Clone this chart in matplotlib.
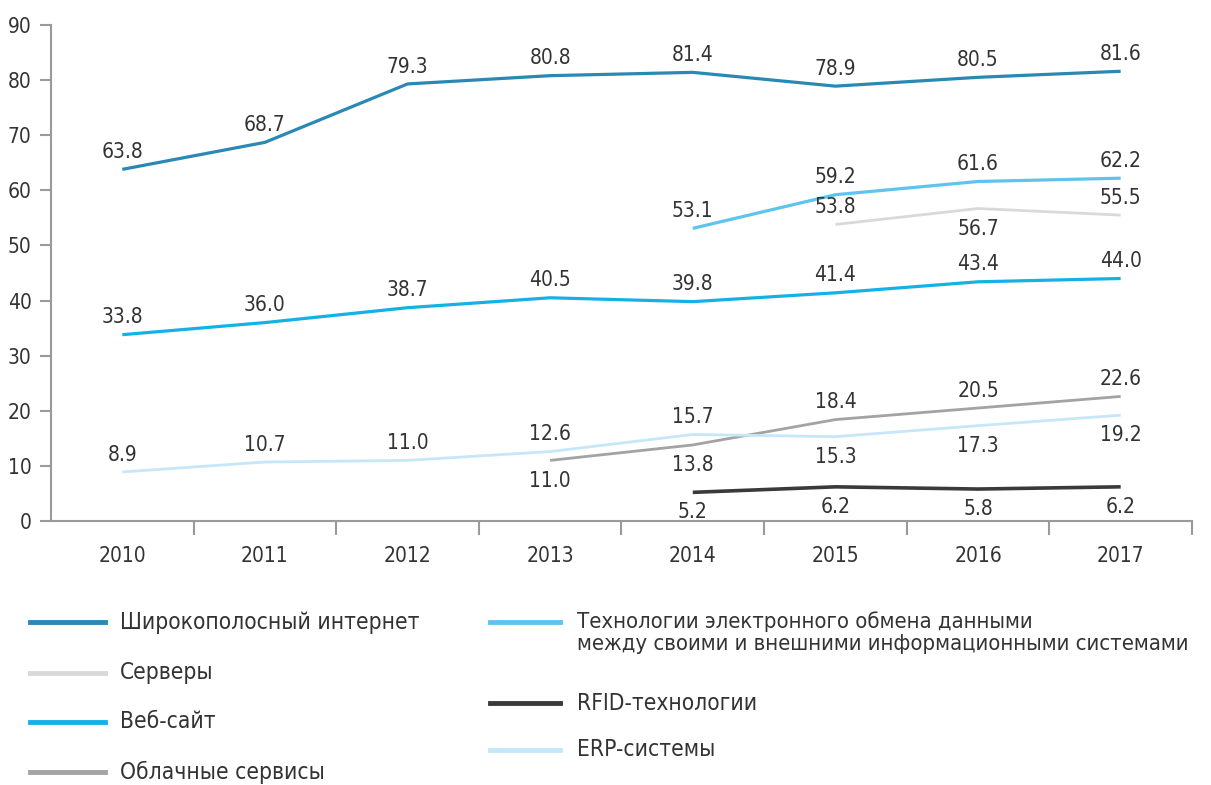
import matplotlib
matplotlib.use("Agg")
import matplotlib.pyplot as plt
from matplotlib.lines import Line2D

plt.rcParams['font.family'] = ['DejaVu Sans']
plt.rcParams['font.stretch'] = 'condensed'

# ----
# Data
# ----
years = ["2010", "2011", "2012", "2013", "2014", "2015", "2016", "2017"]

broadband = [63.8, 68.7, 79.3, 80.8, 81.4, 78.9, 80.5, 81.6]
edi = [None, None, None, None, 53.1, 59.2, 61.6, 62.2]
servers = [None, None, None, None, None, 53.8, 56.7, 55.5]
website = [33.8, 36.0, 38.7, 40.5, 39.8, 41.4, 43.4, 44.0]
cloud = [None, None, None, 11.0, 13.8, 18.4, 20.5, 22.6]
erp = [8.9, 10.7, 11.0, 12.6, 15.7, 15.3, 17.3, 19.2]
rfid = [None, None, None, None, 5.2, 6.2, 5.8, 6.2]

# label placement per point: 1 = above the line, -1 = below
edi_pos = [1, 1, 1, 1]
servers_pos = [1, -1, 1]
cloud_pos = [-1, -1, 1, 1, 1]
erp_pos = [1, 1, 1, 1, 1, -1, -1, -1]
rfid_pos = [-1, -1, -1, -1]

TEXT = "#333333"

series = [
    # name, values, colour, width, label side
    ("Широкополосный интернет", broadband, "#2a88b4", 2.3, None),
    ("Технологии электронного обмена данными\nмежду своими и внешними информационными системами",
     edi, "#5ec4ee", 2.3, edi_pos),
    ("Серверы", servers, "#d9d9d9", 2.0, servers_pos),
    ("Веб-сайт", website, "#14b1e7", 2.3, None),
    ("Облачные сервисы", cloud, "#a3a3a3", 2.0, cloud_pos),
    ("ERP-системы", erp, "#c6e7f8", 2.0, erp_pos),
    ("RFID-технологии", rfid, "#3a3a3a", 2.6, rfid_pos),
]


def plot_series(ax, values, color, lw, pos):
    xs = [i for i, v in enumerate(values) if v is not None]
    ys = [v for v in values if v is not None]
    ax.plot(xs, ys, color=color, lw=lw, solid_capstyle="butt", zorder=3)
    for k, (x, y) in enumerate(zip(xs, ys)):
        side = pos[k] if pos is not None else 1
        off = 12.5 if side > 0 else -14.5
        ax.annotate(f"{y:.1f}", (x, y), xytext=(0, off), textcoords="offset points",
                    ha="center", va="center", fontsize=15, color=TEXT)


fig = plt.figure(figsize=(12.11, 7.85), dpi=100)
ax = fig.add_axes([0.0421, 0.3363, 0.9422, 0.6319])

for name, vals, col, lw, pos in series:
    plot_series(ax, vals, col, lw, pos)

ax.set_xlim(-0.5, len(years) - 0.5)
ax.set_ylim(0, 90)
ax.set_yticks(range(0, 91, 10))
ax.set_xticks(range(len(years)))
ax.set_xticklabels(years)
ax.set_xticks([i + 0.5 for i in range(len(years))], minor=True)
ax.tick_params(axis="x", which="major", length=0, pad=18, labelsize=15, labelcolor=TEXT)
ax.tick_params(axis="x", which="minor", length=10, width=1.5, color="#9a9a9a", direction="out")
ax.tick_params(axis="y", length=8, width=1.5, color="#9a9a9a", pad=6, labelsize=15, labelcolor=TEXT)

for side in ["top", "right"]:
    ax.spines[side].set_visible(False)
for side in ["left", "bottom"]:
    ax.spines[side].set_color("#9a9a9a")
    ax.spines[side].set_linewidth(1.5)

# ------------------
# Legend (2 columns)
# ------------------
W, H = 1211, 785
legend_items = [
    # series index, handle x0, x1, text x, y (pixels from top)
    (0, 30, 105, 120, 622),
    (2, 30, 105, 120, 673),
    (3, 30, 105, 120, 722),
    (4, 30, 105, 120, 772),
    (1, 490, 560, 577, 622),
    (6, 490, 560, 577, 703),
    (5, 490, 560, 577, 750),
]
for idx, x0, x1, tx, y in legend_items:
    name, _, col, lw, _ = series[idx]
    fy = 1 - y / H
    fig.add_artist(Line2D([x0 / W, x1 / W], [fy, fy], color=col, lw=3.5,
                          transform=fig.transFigure))
    if "\n" in name:
        fig.text(tx / W, 1 - (y - 11) / H, name, ha="left", va="top",
                 fontsize=15.8, color=TEXT, linespacing=1.15)
    else:
        fig.text(tx / W, fy, name, ha="left", va="center",
                 fontsize=16.3, color=TEXT)

fig.savefig("out.png", dpi=100)
